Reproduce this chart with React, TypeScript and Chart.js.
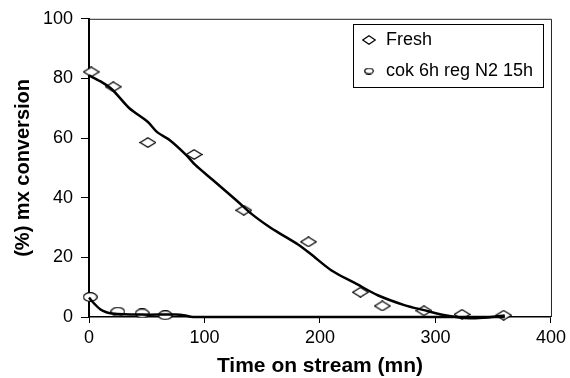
import React, { useEffect, useRef } from 'react';
import { Chart, registerables } from 'chart.js';

Chart.register(...registerables);

// Measured points
const timeFresh = [2, 21, 51, 91, 134, 190, 235, 254, 290, 323, 359];
const convFresh = [82.2, 77.2, 58.5, 54.5, 35.8, 25.2, 8.3, 3.7, 2.1, 0.9, 0.6];
const timeCok = [1, 25, 46, 66];
const convCok = [6.7, 1.8, 1.2, 0.6];

// Trend curves
const trendTimeFresh = [0, 10, 20, 35, 51, 59, 70, 84, 92, 108, 128, 141, 155, 164, 181, 192, 210, 232, 250, 273, 290, 307, 330, 347, 360];
const trendConvFresh = [81, 79, 76.3, 70, 65.4, 62, 59.3, 54.4, 51, 45.7, 39, 34.5, 30.5, 28.3, 24.3, 21.1, 15.6, 11, 7.3, 4, 2.3, 0.7, -0.4, -0.1, 0.5];
const trendTimeCok = [0, 5, 10, 15, 20, 30, 45, 60, 75, 82, 90, 200, 360];
const trendConvCok = [6.5, 4.3, 2.5, 1.6, 1.2, 0.9, 0.8, 0.8, 0.8, 0.6, 0, 0, 0];

const xTicks = [0, 100, 200, 300, 400];
const yTicks = [0, 20, 40, 60, 80, 100];
const legendLabels = ['Fresh', 'cok 6h reg N2 15h'];
const xTitle = 'Time on stream (mn)';
const yTitle = '(%) mx conversion';

const FONT = "'Liberation Sans', Arial, sans-serif";

function makeDiamond(w: number, h: number) {
  const c = document.createElement('canvas');
  c.width = w;
  c.height = h;
  const ctx = c.getContext('2d')!;
  ctx.beginPath();
  ctx.moveTo(w / 2, 0.7);
  ctx.lineTo(w - 0.7, h / 2);
  ctx.lineTo(w / 2, h - 0.7);
  ctx.lineTo(0.7, h / 2);
  ctx.closePath();
  ctx.fillStyle = '#fff';
  ctx.fill();
  ctx.strokeStyle = '#000';
  ctx.lineWidth = 1.2;
  ctx.stroke();
  return c;
}

function makeEllipse(w: number, h: number) {
  const c = document.createElement('canvas');
  c.width = w;
  c.height = h;
  const ctx = c.getContext('2d')!;
  ctx.beginPath();
  ctx.ellipse(w / 2, h / 2, w / 2 - 0.7, h / 2 - 0.7, 0, 0, Math.PI * 2);
  ctx.fillStyle = '#fff';
  ctx.fill();
  ctx.strokeStyle = '#000';
  ctx.lineWidth = 1.2;
  ctx.stroke();
  return c;
}

const framePlugin = {
  id: 'frame',
  beforeDatasetsDraw(chart: any) {
    const { ctx, chartArea } = chart;
    ctx.save();
    ctx.strokeStyle = '#222';
    ctx.lineWidth = 1;
    ctx.beginPath();
    ctx.moveTo(chartArea.left, chartArea.top + 0.5);
    ctx.lineTo(chartArea.right + 0.5, chartArea.top + 0.5);
    ctx.lineTo(chartArea.right + 0.5, chartArea.bottom);
    ctx.stroke();
    ctx.restore();
  },
};

function makeLegendPlugin(d: HTMLCanvasElement, e: HTMLCanvasElement) {
  return {
    id: 'boxLegend',
    afterDraw(chart: any) {
      const { ctx } = chart;
      ctx.save();
      const bx = 353.5, by = 24.5, bw = 190, bh = 63;
      ctx.fillStyle = '#fff';
      ctx.fillRect(bx, by, bw, bh);
      ctx.strokeStyle = '#000';
      ctx.lineWidth = 1;
      ctx.strokeRect(bx, by, bw, bh);
      ctx.drawImage(d, 369 - d.width / 2, 40 - d.height / 2);
      ctx.drawImage(e, 369 - e.width / 2, 71 - e.height / 2);
      ctx.fillStyle = '#000';
      ctx.font = `18px ${FONT}`;
      ctx.textBaseline = 'middle';
      ctx.textAlign = 'left';
      ctx.fillText(legendLabels[0], 386, 40);
      ctx.fillText(legendLabels[1], 386, 71);
      ctx.restore();
    },
  };
}

export default function App() {
  const ref = useRef<HTMLCanvasElement>(null);

  useEffect(() => {
    if (!ref.current) return;
    const diamond = makeDiamond(17, 11);
    const ellipse = makeEllipse(15, 10);
    const legendPlugin = makeLegendPlugin(makeDiamond(14, 10), makeEllipse(10, 7));

    const chart: any = new Chart(ref.current, {
      type: 'scatter',
      data: {
        datasets: [
          {
            label: 'Fresh trend',
            data: trendTimeFresh.map((x, i) => ({ x, y: trendConvFresh[i] })),
            showLine: true,
            borderColor: '#000',
            borderWidth: 2.5,
            pointRadius: 0,
            tension: 0.3,
            clip: false as any,
            order: 0,
          },
          {
            label: 'Cok trend',
            data: trendTimeCok.map((x, i) => ({ x, y: trendConvCok[i] })),
            showLine: true,
            borderColor: '#000',
            borderWidth: 2.5,
            pointRadius: 0,
            tension: 0.3,
            clip: false as any,
            order: 0,
          },
          {
            label: legendLabels[0],
            data: timeFresh.map((x, i) => ({ x, y: convFresh[i] })),
            pointStyle: diamond as any,
            pointRadius: 6,
            showLine: false,
            clip: false as any,
            order: 1,
          },
          {
            label: legendLabels[1],
            data: timeCok.map((x, i) => ({ x, y: convCok[i] })),
            pointStyle: ellipse as any,
            pointRadius: 6,
            showLine: false,
            clip: false as any,
            order: 1,
          },
        ],
      },
      options: {
        responsive: false,
        animation: false,
        events: [],
        layout: { padding: { top: 16, right: 15, left: 0, bottom: 0 } },
        plugins: {
          legend: { display: false },
          tooltip: { enabled: false },
        },
        scales: {
          x: {
            type: 'linear',
            min: 0,
            max: 400,
            afterBuildTicks: (s: any) => {
              s.ticks = xTicks.map((v) => ({ value: v }));
            },
            afterFit: (s: any) => {
              s.height = 61;
            },
            ticks: {
              color: '#000',
              font: { family: FONT, size: 18 },
              padding: 4,
              maxRotation: 0,
            },
            grid: {
              drawOnChartArea: false,
              drawTicks: true,
              tickLength: 6,
              tickColor: '#000',
              tickWidth: 1,
            },
            border: { color: '#000', width: 1.5 },
            title: {
              display: true,
              text: xTitle,
              color: '#000',
              font: { family: FONT, size: 21, weight: 'bold', lineHeight: 1 },
              padding: { top: 0, bottom: 1 },
            },
          },
          y: {
            type: 'linear',
            min: 0,
            max: 100,
            afterBuildTicks: (s: any) => {
              s.ticks = yTicks.map((v) => ({ value: v }));
            },
            afterFit: (s: any) => {
              s.width = 89;
            },
            ticks: {
              color: '#000',
              font: { family: FONT, size: 18 },
              padding: 8,
            },
            grid: {
              drawOnChartArea: false,
              drawTicks: true,
              tickLength: 8,
              tickColor: '#000',
              tickWidth: 1,
            },
            border: { color: '#000', width: 2 },
            title: {
              display: true,
              text: yTitle,
              color: '#000',
              font: { family: FONT, size: 20, weight: 'bold', lineHeight: 1 },
              padding: { top: 13, bottom: 0 },
            },
          },
        },
      },
      plugins: [framePlugin, legendPlugin],
    });

    return () => chart.destroy();
  }, []);

  return (
    <div style={{ position: 'absolute', left: 0, top: 0, width: 570, height: 378, background: '#fff' }}>
      <canvas ref={ref} width={570} height={378} style={{ display: 'block' }} />
    </div>
  );
}
